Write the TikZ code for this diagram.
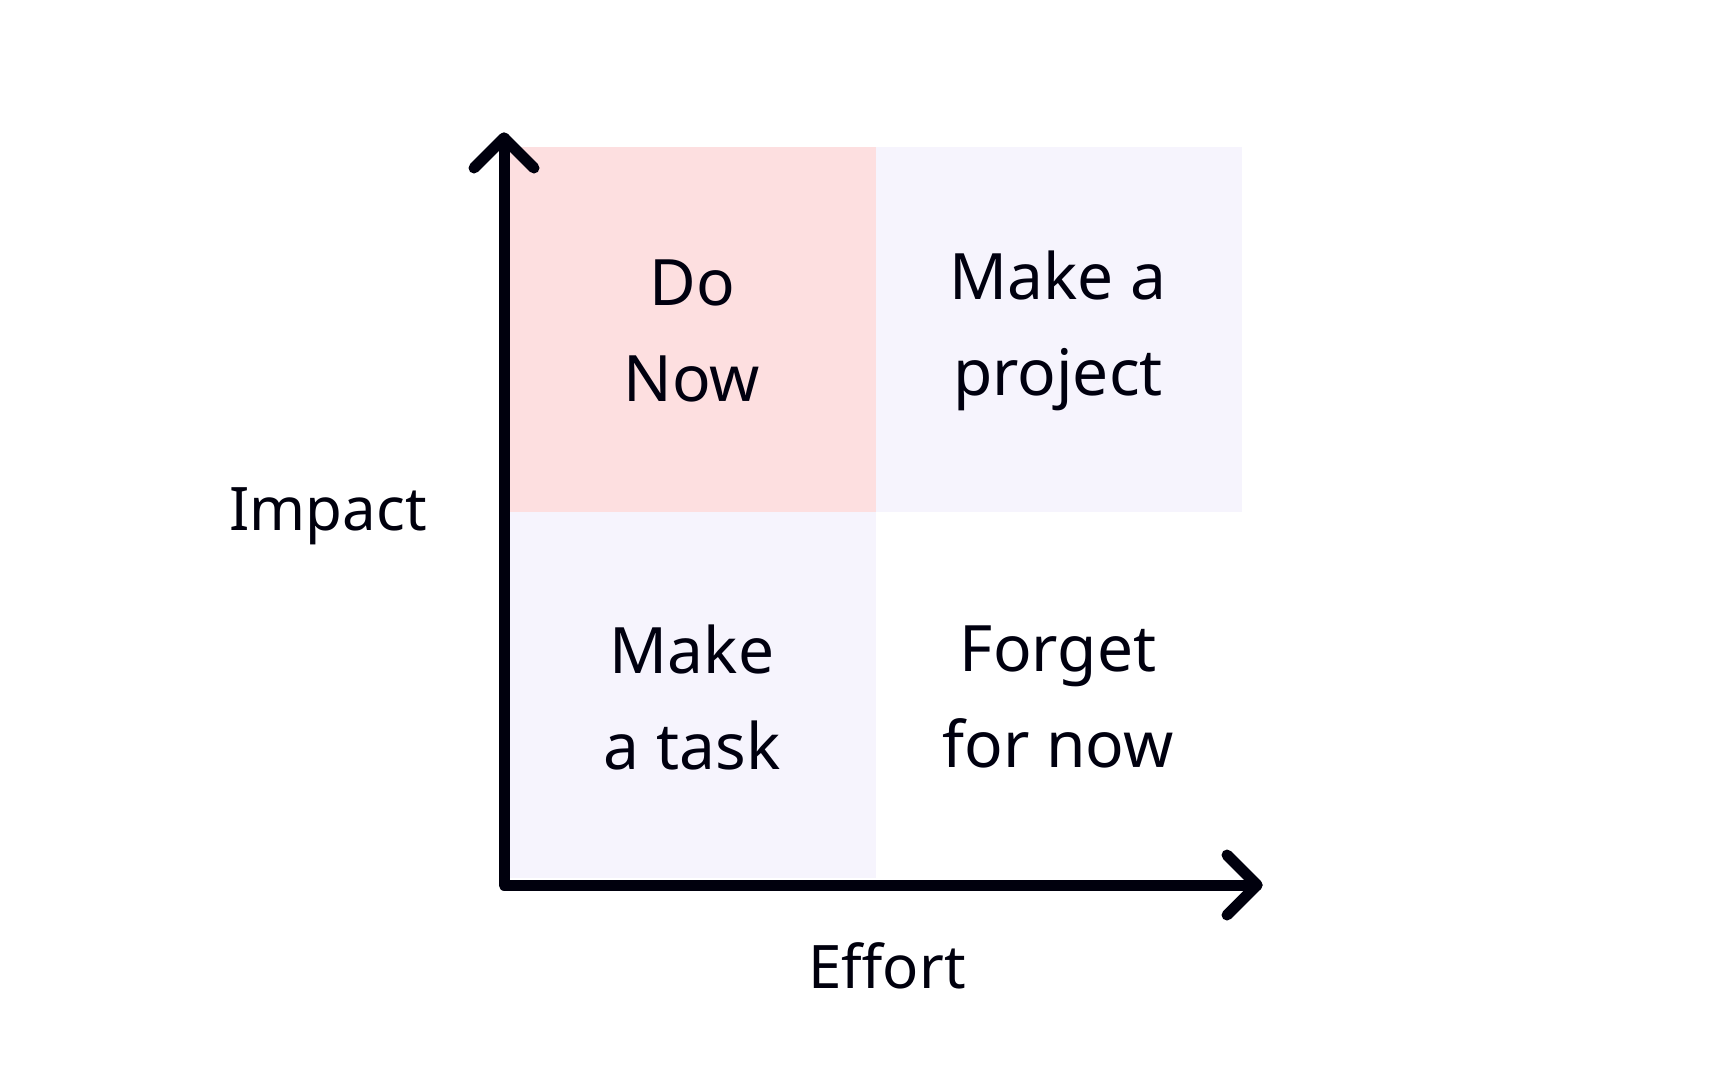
\documentclass[tikz,border=0pt]{standalone}
\usepackage{fontspec}
\setmainfont{Noto Sans}
\usetikzlibrary{calc}
\begin{document}
\begin{tikzpicture}[x=1pt,y=-1pt,
  lbl/.style={align=center,font=\fontsize{64}{96}\selectfont,text=black!90!blue!60!black},
  ax/.style={font=\bfseries\fontsize{60}{72}\selectfont,text=black!95!blue},
  axis/.style={line width=11pt,color=black!95!blue,line cap=round,line join=round}]
\useasboundingbox (0,0) rectangle (1728,1080);
\definecolor{pinkq}{HTML}{FDDFE0}
\definecolor{lav}{HTML}{F6F4FD}
\fill[pinkq] (510,147) rectangle (876,512);
\fill[lav] (876,147) rectangle (1242,512);
\fill[lav] (510,512) rectangle (876,878);
\coordinate (o) at (504,885);
\coordinate (ytop) at (504,138);
\coordinate (xend) at (1257,885);
\draw[axis] (ytop) -- (o) -- (xend);
\draw[axis] ($(ytop)+(-30,30)$) -- (ytop) -- ($(ytop)+(30,30)$);
\draw[axis] ($(xend)+(-30,-30)$) -- (xend) -- ($(xend)+(-30,30)$);
\node[lbl] (q1) at (692,331) {Do\\Now};
\node[lbl] (q2) at (1058,331) {Make a\\project};
\node[lbl] (q3) at (692,697) {Make\\a task};
\node[lbl] (q4) at (1058,697) {Forget\\for now};
\node[ax] (imp) at (328,516) {Impact};
\node[ax] (eff) at (887,966) {Effort};
\end{tikzpicture}
\end{document}
